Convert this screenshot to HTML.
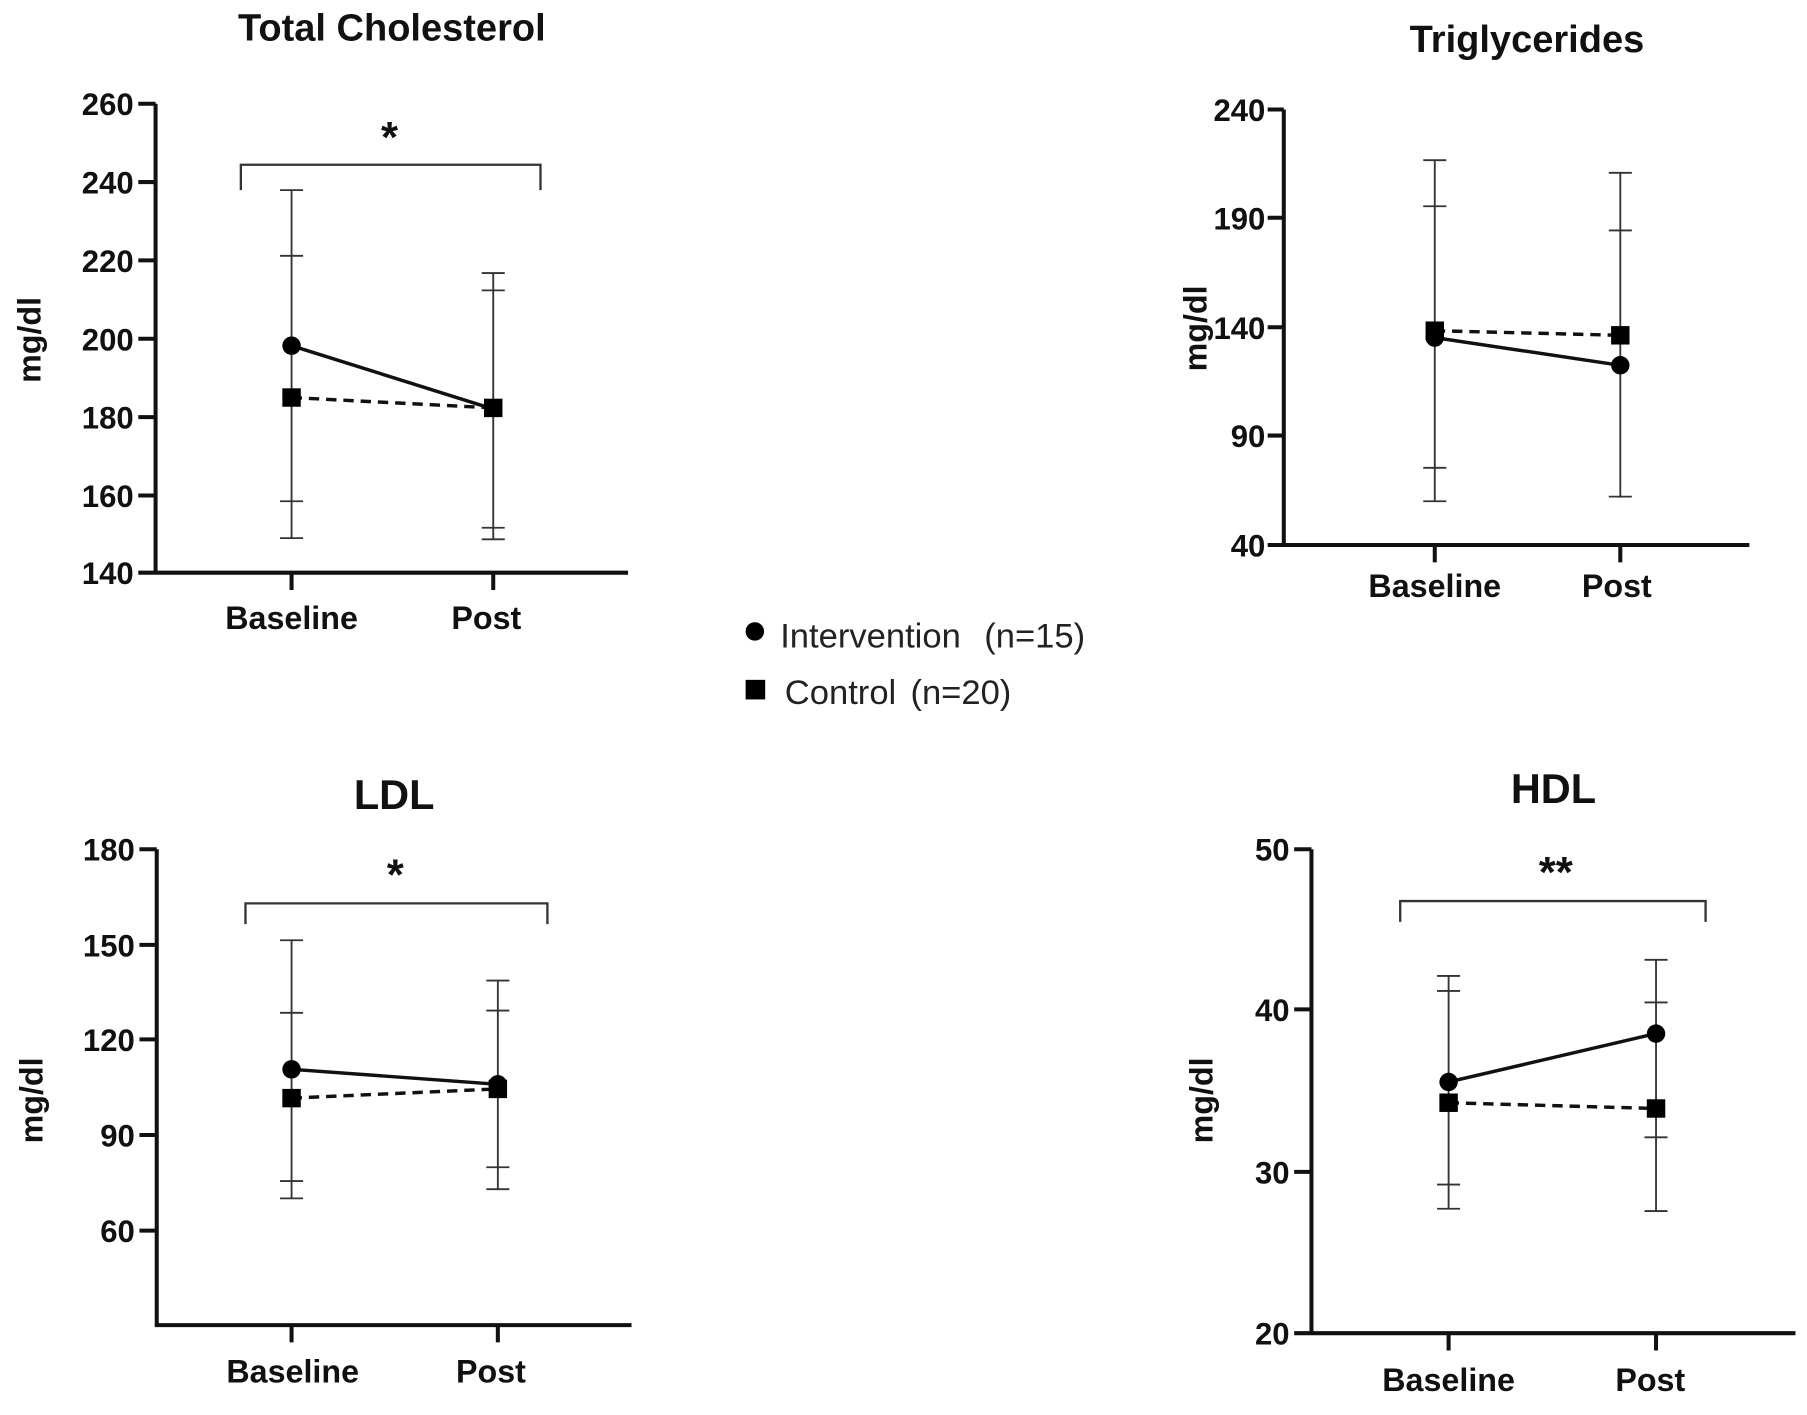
<!DOCTYPE html>
<html><head><meta charset="utf-8"><style>
html,body{margin:0;padding:0;background:#fff;}
svg{display:block;}
text{font-family:"Liberation Sans",Arial,sans-serif;fill:#111;}
.t{font-weight:bold;font-size:33px;text-anchor:middle;}
.k{font-weight:bold;font-size:27px;text-anchor:end;}
.x{font-weight:bold;font-size:28px;text-anchor:middle;}
.y{font-weight:bold;font-size:28px;text-anchor:middle;}
.ax{stroke:#111;stroke-width:3.5;fill:none;}
.eb{stroke:#333;stroke-width:1.6;fill:none;}
.sl{stroke:#111;stroke-width:3;fill:none;}
.dl{stroke:#111;stroke-width:3;stroke-dasharray:9 6;fill:none;}
.br{stroke:#333;stroke-width:2;fill:none;}
.lg{font-size:30px;fill:#222;}
</style></head><body>
<svg width="1807" height="1415" viewBox="0 0 1568 1228" preserveAspectRatio="none" xmlns="http://www.w3.org/2000/svg">
<!-- Panel 1 Total Cholesterol -->
<text class="t" x="340" y="35">Total Cholesterol</text>
<text class="y" transform="translate(35,295) rotate(-90)">mg/dl</text>
<path class="ax" d="M135 90 V497 H545 M120 90 H135 M120 158 H135 M120 226 H135 M120 294 H135 M120 362 H135 M120 430 H135 M120 497 H135 M253 497 V512 M428 497 V512"/>
<g class="k"><text x="116" y="100">260</text><text x="116" y="168">240</text><text x="116" y="236">220</text><text x="116" y="304">200</text><text x="116" y="372">180</text><text x="116" y="440">160</text><text x="116" y="507">140</text></g>
<text class="x" x="253" y="546">Baseline</text><text class="x" x="422" y="546">Post</text>
<path class="br" d="M209 165 V143 H469 V165"/>
<text x="338" y="132" style="font-size:38px;font-weight:bold;text-anchor:middle">*</text>
<path class="eb" d="M253 165 V467 M243 165 H263 M243 222 H263 M243 435 H263 M243 467 H263 M428 237 V468 M418 237 H438 M418 252 H438 M418 458 H438 M418 468 H438"/>
<path class="dl" d="M253 345 L428 354"/><path class="sl" d="M253 300 L428 355"/>
<circle cx="253" cy="300" r="8"/><rect x="245" y="337" width="16" height="16"/><rect x="420" y="346" width="16" height="16"/>
<!-- Panel 2 Triglycerides -->
<text class="t" x="1325" y="45">Triglycerides</text>
<text class="y" transform="translate(1047,285) rotate(-90)">mg/dl</text>
<path class="ax" d="M1114 95 V473 H1518 M1100 95 H1114 M1100 189 H1114 M1100 284 H1114 M1100 378 H1114 M1100 473 H1114 M1245 473 V488 M1406 473 V488"/>
<g class="k"><text x="1098" y="105">240</text><text x="1098" y="199">190</text><text x="1098" y="294">140</text><text x="1098" y="388">90</text><text x="1098" y="483">40</text></g>
<text class="x" x="1245" y="518">Baseline</text><text class="x" x="1403" y="518">Post</text>
<path class="eb" d="M1245 139 V435 M1235 139 H1255 M1235 179 H1255 M1235 406 H1255 M1235 435 H1255 M1406 150 V432 M1396 150 H1416 M1396 200 H1416 M1396 431 H1416"/>
<path class="dl" d="M1245 287 L1406 291"/><path class="sl" d="M1245 293 L1406 317"/>
<circle cx="1245" cy="293" r="8"/><circle cx="1406" cy="317" r="8"/><rect x="1237" y="279" width="16" height="16"/><rect x="1398" y="283" width="16" height="16"/>
<!-- Legend -->
<circle cx="655" cy="548" r="8"/><text class="lg" x="677" y="562">Intervention  <tspan dx="12">(n=15)</tspan></text>
<rect x="647" y="590" width="17" height="17"/><text class="lg" x="681" y="611">Control <tspan dx="4">(n=20)</tspan></text>
<!-- Panel 3 LDL -->
<text class="t" x="342" y="702" style="font-size:36px">LDL</text>
<text class="y" transform="translate(37,955) rotate(-90)">mg/dl</text>
<path class="ax" d="M136 737 V1150 H548 M121 737 H136 M121 820 H136 M121 902 H136 M121 985 H136 M121 1068 H136 M253 1150 V1165 M432 1150 V1165"/>
<g class="k"><text x="117" y="747">180</text><text x="117" y="830">150</text><text x="117" y="912">120</text><text x="117" y="995">90</text><text x="117" y="1078">60</text></g>
<text class="x" x="254" y="1200">Baseline</text><text class="x" x="426" y="1200">Post</text>
<path class="br" d="M213 802 V784 H475 V802"/>
<text x="343" y="772" style="font-size:38px;font-weight:bold;text-anchor:middle">*</text>
<path class="eb" d="M253 816 V1040 M243 816 H263 M243 879 H263 M243 1025 H263 M243 1040 H263 M432 851 V1032 M422 851 H442 M422 877 H442 M422 1013 H442 M422 1032 H442"/>
<path class="dl" d="M253 953 L432 945"/><path class="sl" d="M253 928 L432 941"/>
<circle cx="253" cy="928" r="8"/><circle cx="432" cy="941" r="8"/><rect x="245" y="945" width="16" height="16"/><rect x="424" y="937" width="16" height="16"/>
<!-- Panel 4 HDL -->
<text class="t" x="1348" y="697" style="font-size:36px">HDL</text>
<text class="y" transform="translate(1052,955) rotate(-90)">mg/dl</text>
<path class="ax" d="M1138 737 V1157 H1558 M1123 737 H1138 M1123 876 H1138 M1123 1017 H1138 M1123 1157 H1138 M1257 1157 V1172 M1437 1157 V1172"/>
<g class="k"><text x="1119" y="747">50</text><text x="1119" y="886">40</text><text x="1119" y="1027">30</text><text x="1119" y="1167">20</text></g>
<text class="x" x="1257" y="1207">Baseline</text><text class="x" x="1432" y="1207">Post</text>
<path class="br" d="M1215 800 V782 H1480 V800"/>
<text x="1350" y="770" style="font-size:38px;font-weight:bold;text-anchor:middle">**</text>
<path class="eb" d="M1257 847 V1049 M1247 847 H1267 M1247 860 H1267 M1247 1028 H1267 M1247 1049 H1267 M1437 833 V1051 M1427 833 H1447 M1427 870 H1447 M1427 987 H1447 M1427 1051 H1447"/>
<path class="dl" d="M1257 957 L1437 962"/><path class="sl" d="M1257 939 L1437 897"/>
<circle cx="1257" cy="939" r="8"/><circle cx="1437" cy="897" r="8"/><rect x="1249" y="949" width="16" height="16"/><rect x="1429" y="954" width="16" height="16"/>
</svg>
</body></html>
